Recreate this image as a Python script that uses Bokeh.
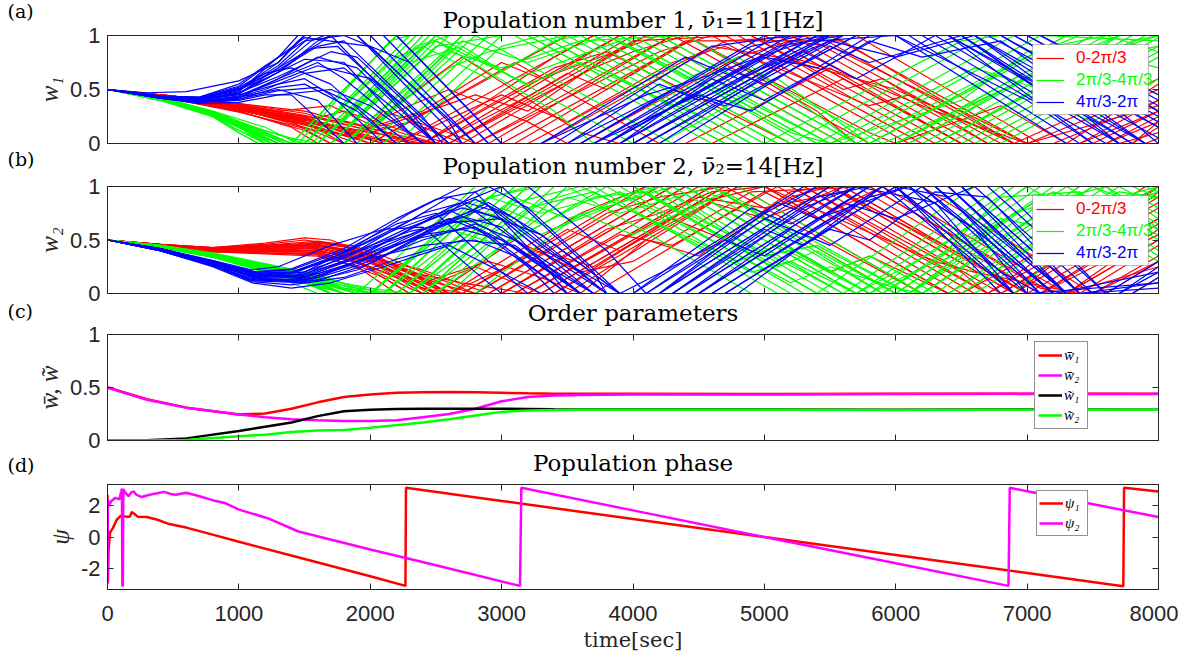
from bokeh.plotting import figure
from bokeh.models import (LinearAxis, FixedTicker, Legend, LegendItem, Label,
                          BoxAnnotation, Range1d)
from bokeh.layouts import column, row
from bokeh.embed import file_html
from bokeh.resources import INLINE

# ---------------- data ----------------
TIME_TICKS = [0, 1000, 2000, 3000, 4000, 5000, 6000, 7000, 8000]
W_TICKS = [0, 0.5, 1]
PSI_TICKS = [-2, 0, 2]

LEGEND_AB = ["0-2\u03c0/3", "2\u03c0/3-4\u03c0/3", "4\u03c0/3-2\u03c0"]
GROUP_COLORS = ["#ff0000", "#00ff00", "#0000ff"]

# Panel (a): weight trajectories of population 1, keypoints (t, w) per line
A_RED = [
    [(0,.5),(500,.44),(1000,.36),(1500,.2),(1800,0),(2000,0),(3500,1),(4100,1),(5600,0),(6900,0),(8000,.6)],
    [(0,.5),(500,.43),(1000,.33),(1500,.18),(1900,0),(2200,0),(3700,1),(4300,1),(5800,0),(7000,0),(8000,.5)],
    [(0,.5),(500,.42),(1000,.31),(1400,.2),(1700,0),(2400,0),(3900,1),(4600,1),(6100,0),(7200,0),(8000,.4)],
    [(0,.5),(500,.44),(1000,.35),(1500,.25),(2000,0),(2600,0),(4000,.95),(4800,1),(6300,0),(7400,0),(8000,.3)],
    [(0,.5),(500,.41),(1000,.30),(1500,.12),(1700,0),(2800,0),(4300,1),(5000,1),(6500,0),(7600,0),(8000,.2)],
    [(0,.5),(500,.43),(1000,.34),(1500,.22),(2100,0),(3000,0),(4500,1),(5200,1),(6700,0),(8000,0)],
    [(0,.5),(500,.42),(1000,.32),(1500,.15),(1800,0),(2000,0),(3100,.75),(4200,0),(4600,0),(5600,.6),(6500,0),(8000,0)],
    [(0,.5),(500,.44),(1000,.37),(1500,.28),(2200,.05),(2400,0),(3400,.7),(3800,.85),(5200,0),(6000,0),(6800,.35),(7300,0),(8000,0)],
    [(0,.5),(500,.43),(1000,.33),(1600,.2),(2000,.1),(2500,0),(3300,.5),(4000,1),(4400,1),(5400,.3),(5700,0),(7800,0),(8000,.15)],
    [(0,.5),(500,.42),(1000,.31),(1500,.18),(1900,.05),(2100,.3),(2600,.1),(2800,0),(4200,.85),(4600,1),(5300,1),(6800,0),(8000,0)],
    [(0,.5),(500,.44),(1000,.36),(1300,.3),(1700,.35),(2300,0),(3200,0),(4600,.9),(5100,.8),(6000,.5),(6900,0),(8000,0)],
    [(0,.5),(500,.43),(1000,.34),(1500,.2),(2000,.1),(2300,.2),(2700,0),(3600,0),(4800,.8),(5200,.95),(5500,.9),(7000,0),(7500,0),(8000,.3)],
    [(0,.5),(500,.42),(1000,.3),(1400,.15),(1600,0),(1800,0),(2700,.8),(3600,.1),(3900,0),(4400,0),(5500,.7),(6500,0),(8000,0)],
    [(0,.5),(500,.43),(1000,.35),(1400,.27),(1800,.2),(2200,.08),(2500,0),(3300,0),(4700,.95),(5400,1),(5700,1),(7100,0),(8000,0)],
    [(0,.5),(500,.42),(1000,.32),(1500,.22),(1900,.12),(2300,.35),(2600,.5),(3200,.2),(3500,0),(4000,0),(5200,.8),(5600,.65),(6300,.3),(7000,0),(8000,.35)],
    [(0,.5),(500,.44),(1000,.37),(1500,.3),(2000,.15),(2400,.3),(3000,.75),(3300,.6),(4200,1),(4900,1),(6400,0),(7700,0),(8000,.1)],
    [(0,.5),(500,.41),(1000,.29),(1500,.14),(1800,.08),(2200,.2),(2800,.45),(3200,.3),(3800,.8),(4100,1),(4700,1),(5900,.2),(6200,0),(8000,0)],
    [(0,.5),(500,.43),(1000,.33),(1500,.24),(2000,.05),(2200,0),(3000,.45),(3500,.2),(4300,.75),(4700,.9),(5800,.35),(6100,.45),(6900,0),(7800,0),(8000,.2)],
    [(0,.5),(500,.42),(1000,.34),(1500,.23),(1800,.1),(2100,0),(2600,0),(3700,.7),(4000,.85),(4400,1),(5800,.1),(6000,0),(7300,0),(8000,.55)],
    [(0,.5),(500,.43),(1000,.34),(1500,.24),(1900,.1),(2200,0),(2500,0),(3900,1),(5000,1),(6500,0),(8000,0)],
    [(0,.5),(500,.42),(1000,.33),(1500,.19),(2000,0),(2900,0),(4300,1),(5400,1),(6900,0),(7600,0),(8000,.25)],
    [(0,.5),(500,.44),(1000,.36),(1500,.26),(2000,.12),(2300,0),(2700,0),(4100,1),(5100,1),(6600,0),(7900,0),(8000,.05)],
    [(0,.5),(500,.41),(1000,.31),(1500,.17),(1900,.04),(2100,.15),(2500,0),(3100,0),(4500,1),(5500,1),(7000,0),(8000,0)],
    [(0,.5),(500,.43),(1000,.35),(1500,.21),(1800,.3),(2300,.1),(2600,0),(3500,.65),(3800,.5),(4400,.95),(5600,.95),(6900,0),(8000,0)],
    [(0,.5),(500,.42),(1000,.32),(1500,.2),(2000,.05),(2400,0),(3400,.8),(3700,1),(4900,1),(5600,.5),(5900,.6),(6700,0),(7400,0),(8000,.4)],
]
A_GREEN = [
    [(0,.5),(400,.42),(800,.27),(1100,.1),(1250,0),(1400,0),(2200,1),(2500,1),(4000,0),(5200,0),(6700,1),(8000,1)],
    [(0,.5),(400,.41),(800,.26),(1000,.15),(1200,0),(1500,0),(2350,1),(2800,1),(4300,0),(5400,0),(6900,1),(8000,1)],
    [(0,.5),(400,.43),(800,.29),(1100,.13),(1350,0),(1600,0),(2450,1),(3100,1),(4600,0),(5600,0),(7100,1),(8000,.95)],
    [(0,.5),(400,.42),(800,.28),(1200,.1),(1400,0),(1700,0),(2600,1),(3300,1),(4800,0),(5800,0),(7300,1),(8000,1)],
    [(0,.5),(400,.40),(800,.25),(1000,.1),(1150,0),(1800,0),(2700,1),(3500,1),(5000,0),(6000,0),(7500,1),(8000,1)],
    [(0,.5),(400,.42),(800,.30),(1200,.15),(1450,0),(1900,0),(2800,1),(3700,1),(5200,0),(6200,0),(7700,1),(8000,1)],
    [(0,.5),(400,.41),(800,.27),(1100,.1),(1300,0),(2000,0),(2900,1),(3900,1),(5400,0),(6400,0),(7900,1),(8000,1)],
    [(0,.5),(400,.43),(800,.28),(1200,.12),(1500,0),(2100,0),(3000,1),(4100,1),(5600,0),(6600,0),(8000,.9)],
    [(0,.5),(400,.42),(800,.27),(1100,.12),(1300,0),(1500,0),(2200,.8),(2500,.95),(3400,.3),(3700,0),(4200,0),(5100,.6),(5800,0),(6100,0),(7400,.9),(8000,.7)],
    [(0,.5),(400,.41),(800,.26),(1100,.1),(1300,0),(1700,0),(2500,.9),(3000,1),(3300,1),(4300,.35),(4700,.5),(5500,0),(6000,0),(7300,.8),(7700,1),(8000,1)],
    [(0,.5),(400,.42),(800,.29),(1150,.12),(1400,0),(1800,0),(2600,.85),(3000,.7),(3600,.95),(4400,1),(5900,0),(6300,0),(7000,.45),(7500,.2),(8000,.6)],
    [(0,.5),(400,.43),(800,.28),(1100,.14),(1350,0),(1900,0),(2700,.95),(3200,.75),(3800,1),(4000,1),(5500,0),(5800,0),(7200,.9),(7500,.8),(8000,1)],
    [(0,.5),(400,.42),(800,.27),(1100,.1),(1300,0),(1600,0),(2400,.9),(2900,.6),(3400,.95),(3600,1),(5100,0),(5500,0),(6600,.7),(7100,.5),(7700,1),(8000,1)],
    [(0,.5),(400,.41),(800,.26),(1100,.11),(1300,0),(1550,0),(2350,.9),(2600,1),(3800,1),(4400,.6),(4800,.8),(5700,0),(6300,0),(7800,.95),(8000,1)],
    [(0,.5),(400,.42),(800,.28),(1100,.12),(1400,0),(2200,0),(3000,.9),(3300,1),(4200,1),(5700,0),(6800,0),(8000,.8)],
    [(0,.5),(400,.43),(800,.29),(1100,.15),(1400,.05),(1600,0),(2300,.75),(2700,.9),(3100,.6),(3900,.95),(4300,.7),(5300,0),(5700,0),(6900,.75),(7400,1),(8000,1)],
    [(0,.5),(400,.40),(800,.25),(1000,.12),(1200,0),(1700,0),(2500,.95),(3200,.55),(3600,.75),(4600,.2),(4900,0),(5900,0),(7000,.6),(7300,.75),(8000,.9)],
    [(0,.5),(400,.42),(800,.27),(1100,.1),(1300,0),(1800,0),(2600,.7),(2900,.85),(3500,1),(3800,1),(4900,.3),(5200,.1),(5500,0),(6500,.4),(7000,.85),(7600,1),(8000,.85)],
    [(0,.5),(400,.41),(800,.26),(1000,.12),(1250,0),(1450,0),(2150,.95),(2300,1),(3200,1),(4700,0),(5000,0),(6500,.95),(6800,1),(8000,1)],
    [(0,.5),(400,.41),(800,.27),(1100,.12),(1300,0),(1500,0),(2300,1),(3600,1),(5100,0),(6300,0),(7800,1),(8000,1)],
    [(0,.5),(400,.42),(800,.28),(1100,.1),(1250,0),(1700,0),(2500,1),(3900,1),(5400,0),(6500,0),(8000,.98)],
    [(0,.5),(400,.43),(800,.3),(1100,.16),(1400,0),(1600,0),(2400,1),(3400,1),(4900,0),(6000,0),(7500,1),(8000,1)],
    [(0,.5),(400,.40),(800,.25),(1000,.1),(1150,0),(1400,0),(2200,1),(3200,1),(4700,0),(5800,0),(7300,1),(8000,1)],
    [(0,.5),(400,.42),(800,.27),(1100,.11),(1300,0),(1900,0),(2700,1),(4200,1),(5700,0),(6700,0),(8000,.85)],
    [(0,.5),(400,.41),(800,.26),(1100,.09),(1200,0),(1600,0),(2500,1),(3700,1),(5200,0),(6100,0),(7600,1),(8000,1)],
]
A_BLUE = [
    [(0,.5),(400,.44),(700,.42),(1000,.5),(1300,.75),(1500,1),(1900,1),(2800,0),(3700,0),(5200,1),(6200,1),(7600,0),(8000,0)],
    [(0,.5),(400,.43),(700,.40),(1000,.46),(1300,.7),(1550,.95),(1650,1),(2100,1),(2900,0),(3900,0),(5400,1),(6400,1),(7800,0),(8000,0)],
    [(0,.5),(400,.43),(700,.39),(1000,.42),(1300,.6),(1600,.75),(1800,.6),(2400,0),(3800,0),(5100,.9),(5600,1),(6000,1),(7300,0),(8000,0)],
    [(0,.5),(400,.44),(700,.41),(1000,.45),(1300,.55),(1500,.6),(1700,.45),(2100,0),(3600,0),(4900,.9),(5300,1),(6600,1),(8000,.05)],
    [(0,.5),(400,.42),(700,.38),(1000,.40),(1200,.45),(1400,.45),(1800,0),(3800,0),(5000,.8),(5400,.7),(5800,1),(6800,1),(8000,.2)],
    [(0,.5),(400,.43),(700,.40),(1000,.48),(1300,.8),(1500,.98),(2000,.9),(2600,.2),(2700,0),(4000,0),(5500,1),(6900,1),(8000,.3)],
    [(0,.5),(400,.44),(700,.42),(1000,.52),(1200,.65),(1400,.7),(1700,.55),(2200,0),(3500,0),(4300,.5),(4700,.35),(5700,1),(6500,1),(7800,0),(8000,0)],
    [(0,.5),(400,.43),(700,.39),(1000,.43),(1300,.5),(1600,.4),(1900,0),(3300,0),(4400,.8),(4800,.6),(5600,1),(6100,1),(7400,0),(8000,0)],
    [(0,.5),(400,.42),(700,.37),(1000,.38),(1300,.45),(1700,.5),(2000,.35),(2400,0),(3900,0),(4600,.6),(5000,.4),(5900,1),(7100,1),(8000,.45)],
    [(0,.5),(400,.44),(700,.43),(1000,.55),(1200,.72),(1500,.95),(1800,1),(2300,.75),(2900,0),(4100,0),(5300,.85),(5700,.6),(6300,1),(7000,1),(8000,.35)],
    [(0,.5),(400,.43),(700,.41),(1000,.47),(1300,.62),(1700,.85),(1900,.8),(2600,0),(3700,0),(4500,.45),(4900,.3),(5800,.95),(6200,.8),(6800,.95),(7900,0),(8000,0)],
    [(0,.5),(300,.47),(600,.48),(1000,.58),(1300,.75),(1450,.95),(1500,1),(1700,1),(2500,0),(3400,0),(4600,.9),(5200,1),(6300,1),(7700,0),(8000,0)],
    [(0,.5),(400,.43),(700,.39),(1000,.44),(1300,.58),(1600,.72),(2000,.6),(2600,0),(3500,0),(4200,.55),(4500,.4),(5400,.95),(6000,1),(7000,.4),(7500,0),(8000,0)],
    [(0,.5),(400,.44),(700,.42),(1000,.51),(1300,.68),(1600,.9),(1800,.95),(2400,.25),(2550,0),(3600,0),(5000,1),(6400,1),(7900,0),(8000,0)],
    [(0,.5),(400,.42),(700,.38),(1000,.41),(1300,.52),(1500,.55),(1900,.3),(2200,0),(3300,0),(4100,.45),(4500,.6),(5200,.9),(5500,1),(6700,1),(8000,.15)],
    [(0,.5),(400,.43),(700,.40),(1000,.46),(1300,.66),(1550,.88),(1750,.9),(2300,.3),(2500,0),(4200,0),(5100,.7),(5500,.95),(6000,.8),(6600,1),(7400,.3),(7700,0),(8000,0)],
    [(0,.5),(400,.44),(700,.41),(1000,.49),(1300,.7),(1600,.92),(1700,1),(2200,1),(3000,0),(4300,0),(5500,.9),(5800,.75),(6500,1),(7200,.4),(7500,.5),(8000,0)],
    [(0,.5),(400,.42),(700,.39),(1000,.43),(1200,.5),(1500,.65),(1800,.7),(2100,.4),(2500,0),(3800,0),(4700,.7),(5000,.55),(5700,1),(6400,1),(7500,0),(8000,0)],
    [(0,.5),(400,.44),(700,.43),(1000,.53),(1300,.8),(1450,1),(2200,1),(3000,0),(4000,0),(5400,1),(7000,1),(8000,.3)],
    [(0,.5),(400,.43),(700,.41),(1000,.5),(1300,.72),(1550,1),(2000,1),(2800,0),(3900,0),(5300,1),(6800,1),(8000,.15)],
    [(0,.5),(400,.42),(700,.39),(1000,.44),(1300,.6),(1600,.8),(1900,.7),(2500,0),(4100,0),(5600,1),(7100,1),(8000,.4)],
    [(0,.5),(400,.43),(700,.40),(1000,.47),(1300,.66),(1600,.95),(1700,1),(1900,1),(2700,0),(3700,0),(5100,1),(6600,1),(7900,0),(8000,0)],
    [(0,.5),(400,.44),(700,.42),(1000,.5),(1200,.6),(1500,.78),(1800,.75),(2300,.1),(2400,0),(3800,0),(5200,.95),(5500,1),(6900,1),(8000,.25)],
    [(0,.5),(400,.42),(700,.38),(1000,.41),(1300,.49),(1600,.52),(1900,.35),(2300,0),(4000,0),(5500,1),(6500,1),(7700,0),(8000,0)],
]

# Panel (b): weight trajectories of population 2
B_RED = [
    [(0,.5),(400,.46),(800,.42),(1200,.44),(1600,.46),(1900,.38),(2300,.1),(2450,0),(2700,0),(4100,1),(4600,1),(6000,0),(6500,0),(8000,1)],
    [(0,.5),(400,.45),(800,.40),(1200,.41),(1600,.43),(2000,.3),(2400,0),(2900,0),(4300,1),(4800,1),(6200,0),(6700,0),(8000,.9)],
    [(0,.5),(400,.44),(800,.39),(1200,.38),(1600,.36),(2000,.22),(2300,0),(3000,0),(4400,1),(5000,1),(6400,0),(6900,0),(8000,.8)],
    [(0,.5),(400,.46),(800,.43),(1200,.46),(1500,.5),(1800,.45),(2200,.25),(2600,0),(3200,0),(4600,1),(5200,1),(6600,0),(7100,0),(8000,.65)],
    [(0,.5),(400,.45),(800,.41),(1200,.39),(1600,.37),(2100,.15),(2300,0),(3300,0),(4700,1),(5400,1),(6800,0),(7300,0),(8000,.5)],
    [(0,.5),(400,.44),(800,.40),(1200,.42),(1600,.40),(2000,.3),(2500,.05),(2700,0),(3500,.6),(3900,.4),(4800,1),(5600,1),(7000,0),(7500,0),(8000,.35)],
    [(0,.5),(400,.45),(800,.42),(1200,.45),(1600,.47),(2000,.4),(2400,.2),(2800,0),(3400,0),(4300,.7),(4700,.5),(5200,.9),(5500,1),(6900,0),(7800,0),(8000,.15)],
    [(0,.5),(400,.46),(800,.41),(1200,.40),(1700,.38),(2100,.2),(2500,0),(3100,.5),(3600,.2),(4000,.3),(4900,.95),(5800,1),(7200,0),(8000,0)],
    [(0,.5),(400,.45),(800,.40),(1200,.43),(1600,.45),(2000,.35),(2400,.15),(2600,0),(3000,0),(3800,.6),(4200,.75),(4600,.95),(5000,1),(6300,.3),(6600,.2),(7400,0),(8000,.45)],
    [(0,.5),(400,.44),(800,.39),(1200,.37),(1600,.35),(1900,.25),(2200,0),(2600,0),(3600,.75),(4100,1),(4400,1),(5500,.2),(5800,.35),(6400,0),(6800,0),(7800,.75),(8000,.95)],
    [(0,.5),(400,.45),(800,.42),(1200,.44),(1600,.42),(2000,.32),(2500,.1),(2800,.25),(3300,0),(3700,0),(5000,.95),(5400,.7),(5900,1),(6200,1),(7500,0),(8000,0)],
    [(0,.5),(400,.46),(800,.43),(1200,.45),(1600,.44),(1900,.4),(2300,.2),(2700,.1),(3200,0),(4500,.9),(5000,.8),(5600,.95),(6700,.2),(7000,0),(7500,0),(8000,.3)],
    [(0,.5),(400,.45),(800,.41),(1200,.42),(1600,.48),(1900,.42),(2300,.15),(2500,0),(3400,0),(4800,1),(5300,1),(6500,.2),(6700,0),(7300,0),(8000,.6)],
    [(0,.5),(400,.44),(800,.40),(1200,.39),(1600,.41),(2000,.28),(2400,.1),(2900,.3),(3300,.15),(3600,0),(4100,.5),(4500,.35),(5200,.95),(5500,1),(6600,.3),(6900,0),(8000,0)],
    [(0,.5),(400,.46),(800,.43),(1200,.47),(1500,.52),(1700,.5),(2100,.3),(2500,.1),(2800,0),(3800,.75),(4200,.9),(4700,1),(6200,0),(6900,0),(8000,1)],
    [(0,.5),(400,.45),(800,.42),(1200,.43),(1600,.39),(2000,.25),(2400,.05),(2600,0),(3300,.4),(3700,.25),(4500,.85),(5000,1),(5200,1),(6700,0),(7100,0),(8000,.7)],
    [(0,.5),(400,.44),(800,.39),(1200,.40),(1600,.43),(2000,.33),(2400,.22),(2900,0),(3500,0),(4600,.85),(5000,.7),(5600,1),(5900,1),(7300,0),(8000,0)],
    [(0,.5),(400,.45),(800,.41),(1200,.41),(1600,.38),(1900,.3),(2300,.1),(2500,0),(3100,0),(3900,.55),(4300,.45),(5100,1),(5800,1),(7100,.05),(7300,0),(8000,.25)],
    [(0,.5),(400,.45),(800,.41),(1200,.43),(1600,.45),(2000,.33),(2400,.05),(2500,0),(3000,0),(4400,1),(5600,1),(7000,0),(7300,0),(8000,.5)],
    [(0,.5),(400,.46),(800,.42),(1200,.45),(1600,.49),(1900,.44),(2300,.2),(2600,0),(3200,0),(4600,1),(5500,1),(6900,0),(7100,0),(8000,.55)],
    [(0,.5),(400,.44),(800,.40),(1200,.40),(1600,.40),(2000,.3),(2400,.08),(2500,0),(2900,0),(4300,1),(5300,1),(6700,0),(7000,0),(8000,.7)],
    [(0,.5),(400,.45),(800,.41),(1200,.42),(1600,.44),(2000,.36),(2500,.12),(2700,0),(3300,0),(4700,1),(5700,1),(7100,0),(7600,0),(8000,.3)],
    [(0,.5),(400,.45),(800,.42),(1200,.44),(1600,.46),(2000,.37),(2400,.12),(2550,0),(3100,0),(4500,1),(5100,1),(6500,0),(6800,0),(8000,.85)],
    [(0,.5),(400,.44),(800,.39),(1200,.38),(1600,.37),(1900,.29),(2300,.05),(2400,0),(2800,0),(4200,1),(5000,1),(6400,0),(6700,0),(7900,1),(8000,1)],
]
B_GREEN = [
    [(0,.5),(400,.44),(800,.36),(1200,.24),(1500,.1),(1700,0),(1900,0),(2800,1),(3500,1),(4900,0),(5400,0),(6600,1),(7000,1),(8000,.3)],
    [(0,.5),(400,.43),(800,.35),(1200,.22),(1600,.08),(1800,0),(2100,0),(3000,1),(3700,1),(5100,0),(5600,0),(6800,1),(7300,1),(8000,.5)],
    [(0,.5),(400,.45),(800,.37),(1200,.26),(1600,.1),(1900,0),(2300,0),(3200,1),(3900,1),(5300,0),(5800,0),(7000,1),(7500,1),(8000,.65)],
    [(0,.5),(400,.44),(800,.35),(1200,.23),(1500,.12),(1700,0),(2400,0),(3300,1),(4100,1),(5500,0),(6000,0),(7200,1),(7700,1),(8000,.8)],
    [(0,.5),(400,.43),(800,.34),(1200,.2),(1500,.05),(1600,0),(2500,0),(3400,1),(4300,1),(5700,0),(6200,0),(7400,1),(8000,1)],
    [(0,.5),(400,.45),(800,.38),(1200,.28),(1600,.18),(2000,0),(2600,0),(3500,1),(4500,1),(5900,0),(6400,0),(7600,1),(8000,1)],
    [(0,.5),(400,.44),(800,.36),(1200,.25),(1500,.15),(1900,0),(2200,0),(3000,.8),(3400,.6),(4200,1),(4400,1),(5500,.2),(5800,.35),(6300,0),(6500,0),(7500,.8),(8000,.9)],
    [(0,.5),(400,.43),(800,.35),(1200,.24),(1600,.1),(1800,0),(2000,0),(2700,.7),(3100,.5),(3800,1),(4000,1),(5100,.25),(5400,.4),(6000,0),(6700,.6),(7200,.95),(8000,.6)],
    [(0,.5),(400,.44),(800,.37),(1200,.27),(1600,.16),(2100,0),(2800,0),(3600,.75),(4000,.55),(4700,.95),(6100,0),(6600,0),(7300,.55),(7800,.85),(8000,1)],
    [(0,.5),(400,.45),(800,.36),(1200,.25),(1500,.14),(1800,.05),(2000,0),(2900,.9),(3300,.75),(3900,.95),(5200,.1),(5500,.25),(6000,.05),(6200,0),(7100,.7),(7500,1),(8000,.75)],
    [(0,.5),(400,.43),(800,.34),(1200,.21),(1500,.1),(1700,0),(2300,0),(3100,.85),(3600,1),(4800,.3),(5100,.45),(5800,0),(6300,.3),(6800,.9),(7400,.95),(8000,.4)],
    [(0,.5),(400,.44),(800,.36),(1200,.26),(1600,.13),(1900,0),(2500,0),(3500,.9),(3900,.75),(4600,1),(4800,1),(6200,0),(6900,0),(7700,.9),(8000,1)],
    [(0,.5),(400,.44),(800,.35),(1200,.23),(1500,.1),(1700,0),(2000,0),(2800,.85),(3200,1),(4000,1),(5300,.2),(5600,0),(6100,0),(7300,.9),(7600,1),(8000,.7)],
    [(0,.5),(400,.43),(800,.36),(1200,.25),(1600,.12),(1900,.05),(2200,0),(3100,.9),(3500,.7),(4300,1),(4600,1),(5900,0),(6400,0),(7700,.95),(8000,.9)],
    [(0,.5),(400,.45),(800,.37),(1200,.27),(1500,.18),(1800,.05),(2000,0),(2600,.6),(3000,.45),(3700,.9),(4100,.95),(5400,0),(5900,0),(6800,.7),(7200,.6),(8000,.95)],
    [(0,.5),(400,.44),(800,.35),(1200,.22),(1500,.1),(1800,0),(2400,0),(3300,.85),(3700,1),(4400,1),(5800,0),(6100,0),(6900,.75),(7300,.9),(8000,.35)],
    [(0,.5),(400,.43),(800,.34),(1200,.2),(1600,.1),(1800,0),(2100,0),(2900,.75),(3300,.55),(4000,.95),(4200,1),(5000,.35),(5400,.45),(6100,0),(6700,.55),(7100,.9),(8000,.55)],
    [(0,.5),(400,.44),(800,.36),(1200,.24),(1600,.14),(2000,.05),(2300,0),(3200,.8),(3700,.95),(4900,.2),(5200,.3),(5700,0),(6300,.4),(7000,1),(7600,1),(8000,.6)],
    [(0,.5),(400,.44),(800,.36),(1200,.25),(1500,.13),(1800,0),(2000,0),(2900,1),(4200,1),(5600,0),(6100,0),(7300,1),(8000,1)],
    [(0,.5),(400,.43),(800,.35),(1200,.23),(1600,.1),(1800,0),(2200,0),(3100,1),(4400,1),(5800,0),(6300,0),(7500,1),(8000,1)],
    [(0,.5),(400,.45),(800,.37),(1200,.26),(1600,.13),(1900,0),(2300,0),(3200,1),(4000,1),(5400,0),(5900,0),(7100,1),(7900,1),(8000,.95)],
    [(0,.5),(400,.44),(800,.36),(1200,.24),(1500,.11),(1700,0),(2100,0),(3000,1),(3800,1),(5200,0),(5700,0),(6900,1),(7800,1),(8000,.9)],
    [(0,.5),(400,.43),(800,.34),(1200,.21),(1600,.07),(1700,0),(2400,0),(3300,1),(4600,1),(6000,0),(6500,0),(7700,1),(8000,1)],
    [(0,.5),(400,.45),(800,.37),(1200,.27),(1600,.15),(1900,.03),(2100,0),(2900,.9),(3300,1),(4300,1),(5700,0),(6200,0),(7400,1),(8000,1)],
]
B_BLUE = [
    [(0,.5),(400,.42),(800,.3),(1100,.2),(1400,.2),(1800,.35),(2300,.55),(2600,.7),(2900,.55),(3500,0),(4000,0),(5300,1),(6000,1),(7000,0),(8000,0)],
    [(0,.5),(400,.41),(800,.28),(1100,.16),(1400,.15),(1800,.3),(2300,.5),(2700,.6),(3000,.5),(3700,0),(4200,0),(5500,1),(6200,1),(7200,0),(8000,0)],
    [(0,.5),(400,.42),(800,.29),(1200,.15),(1500,.18),(1900,.4),(2400,.75),(2700,.85),(3100,.5),(3600,0),(4400,0),(5700,1),(6300,1),(7300,0),(7700,0),(8000,.2)],
    [(0,.5),(400,.40),(800,.26),(1100,.12),(1500,.1),(1900,.22),(2400,.55),(2800,.95),(2900,1),(3200,.8),(3900,0),(4100,0),(5400,1),(5900,1),(6900,0),(7600,0),(8000,.3)],
    [(0,.5),(400,.41),(800,.27),(1200,.12),(1600,.15),(2000,.35),(2500,.65),(3000,.7),(3300,.4),(3800,0),(4500,0),(5200,.6),(5500,.45),(6200,1),(6500,1),(7400,0),(8000,0)],
    [(0,.5),(400,.42),(800,.28),(1100,.2),(1400,.22),(1800,.4),(2200,.65),(2500,.75),(2900,.3),(3200,0),(4300,0),(5000,.6),(5300,.45),(6000,1),(6400,.9),(7100,0),(8000,0)],
    [(0,.5),(400,.41),(800,.3),(1200,.18),(1500,.15),(1900,.3),(2400,.45),(2800,.5),(3100,.35),(3500,0),(4600,0),(5800,.9),(6100,1),(6600,.6),(7000,0),(8000,.1)],
    [(0,.5),(400,.40),(800,.25),(1100,.1),(1400,.05),(1700,.1),(2100,.25),(2600,.45),(3000,.2),(3300,0),(3900,0),(4700,.5),(5000,.35),(5800,1),(6600,1),(7500,0),(8000,0)],
    [(0,.5),(400,.42),(800,.29),(1100,.17),(1400,.18),(1800,.38),(2300,.68),(2600,.9),(3000,.75),(3800,0),(4200,0),(5000,.7),(5300,.55),(5900,1),(6100,1),(6800,.2),(7100,0),(7700,0),(8000,.25)],
    [(0,.5),(400,.41),(800,.27),(1200,.14),(1600,.12),(2000,.28),(2500,.6),(2900,.82),(3400,.35),(3900,0),(4800,0),(5900,1),(6700,1),(7600,0),(8000,0)],
    [(0,.5),(400,.42),(800,.31),(1100,.22),(1300,.25),(1700,.45),(2100,.6),(2400,.62),(2800,.2),(3000,0),(4000,0),(4900,.8),(5200,.65),(5700,1),(6300,.85),(6900,0),(7800,0),(8000,.15)],
    [(0,.5),(400,.40),(800,.26),(1100,.14),(1500,.15),(2000,.4),(2600,.8),(3000,1),(3200,1),(3800,.4),(4100,0),(4500,0),(5600,.85),(6000,.7),(6600,1),(6800,1),(7600,0),(8000,0)],
    [(0,.5),(400,.41),(800,.28),(1100,.15),(1400,.12),(1800,.25),(2300,.5),(2700,.72),(3000,.62),(3600,0),(4300,0),(5400,.9),(5800,1),(6500,1),(7300,0),(8000,0)],
    [(0,.5),(400,.42),(800,.3),(1100,.2),(1400,.23),(1800,.42),(2200,.7),(2500,.88),(2800,.95),(3300,.3),(3500,0),(4100,0),(5000,.75),(5400,1),(6000,1),(6800,0),(8000,0)],
    [(0,.5),(400,.40),(800,.27),(1100,.13),(1500,.12),(1900,.3),(2400,.55),(2800,.62),(3200,.25),(3400,0),(4700,0),(5500,.6),(5800,.5),(6300,.95),(6700,.9),(7400,0),(8000,.1)],
    [(0,.5),(400,.41),(800,.29),(1200,.17),(1500,.16),(1900,.33),(2400,.6),(2800,.78),(3300,.55),(3900,0),(4400,0),(5300,.8),(5700,1),(6400,1),(7000,.3),(7300,0),(8000,0)],
    [(0,.5),(400,.42),(800,.3),(1200,.18),(1500,.2),(1900,.45),(2300,.75),(2700,1),(3000,1),(3700,.2),(3800,0),(4200,0),(5100,.85),(5400,.7),(6100,1),(6600,.6),(7200,0),(8000,.2)],
    [(0,.5),(400,.40),(800,.26),(1100,.11),(1400,.08),(1800,.15),(2200,.32),(2700,.5),(3100,.45),(3600,0),(4500,0),(5800,1),(6300,1),(7200,0),(8000,0)],
    [(0,.5),(400,.41),(800,.28),(1100,.16),(1400,.16),(1800,.33),(2300,.62),(2700,.8),(3000,.7),(3700,0),(4500,0),(5800,1),(6400,1),(7300,0),(8000,0)],
    [(0,.5),(400,.42),(800,.3),(1100,.19),(1400,.2),(1800,.38),(2200,.6),(2600,.78),(2900,.6),(3600,0),(4400,0),(5700,1),(6300,1),(7200,0),(8000,0)],
    [(0,.5),(400,.40),(800,.26),(1100,.12),(1500,.11),(1900,.26),(2400,.5),(2800,.65),(3100,.5),(3700,0),(4600,0),(5900,1),(6400,1),(7300,0),(8000,0)],
    [(0,.5),(400,.41),(800,.28),(1200,.16),(1500,.17),(1900,.35),(2400,.66),(2800,.88),(3100,.7),(3800,0),(4300,0),(5600,1),(6200,1),(7100,0),(8000,0)],
    [(0,.5),(400,.42),(800,.29),(1100,.18),(1400,.19),(1800,.36),(2300,.58),(2700,.68),(3000,.5),(3600,0),(4200,0),(5500,1),(6000,1),(6900,0),(8000,0)],
    [(0,.5),(400,.41),(800,.27),(1200,.13),(1500,.13),(1900,.28),(2500,.62),(2900,.85),(3300,.55),(3900,0),(4700,0),(6000,1),(6500,1),(7400,0),(8000,.05)],
]

# Panel (c): order parameters
T_C = [0, 300, 600, 1000, 1200, 1400, 1600, 1800, 2000, 2200, 2400, 2600, 2800,
       3000, 3200, 3400, 3600, 4000, 5000, 6000, 7000, 8000]
WBAR1 = [.5, .39, .31, .245, .255, .30, .36, .41, .435, .45, .455, .458, .455,
         .45, .445, .442, .44, .44, .438, .44, .442, .44]
WBAR2 = [.5, .385, .31, .245, .22, .20, .19, .185, .185, .19, .22, .25, .30,
         .37, .41, .425, .43, .435, .435, .438, .44, .438]
WTIL1 = [0, .002, .02, .09, .13, .17, .23, .275, .29, .297, .30, .30, .30,
         .30, .298, .295, .293, .292, .292, .291, .292, .29]
WTIL2 = [0, 0, .005, .04, .055, .08, .095, .10, .12, .145, .17, .20, .235,
         .27, .283, .288, .29, .29, .29, .288, .29, .29]
LEGEND_C = ["w\u0304\u2081", "w\u0304\u2082", "w\u0303\u2081", "w\u0303\u2082"]

# Panel (d): population phases
T_PSI1 = [0, 3, 8, 20, 40, 70, 100, 140, 170, 185, 200, 230, 300, 380, 460, 600,
          800, 1000, 1500, 2000, 2268, 2272, 3000, 4000, 5000, 6000, 7000, 7732,
          7738, 8000]
PSI1 = [2.7, -2.9, -0.8, 0.3, 0.55, 1.1, 1.35, 1.3, 1.3, 1.6, 1.5, 1.3, 1.28, 1.1,
        0.85, 0.6, 0.15, -0.3, -1.4, -2.5, -3.12, 3.14, 2.30, 1.15, 0.0, -1.15,
        -2.30, -3.14, 3.14, 2.9]
T_PSI2 = [0, 3, 10, 30, 60, 90, 105, 110, 113, 117, 120, 135, 160, 180, 200, 220,
          260, 300, 350, 430, 480, 520, 600, 700, 800, 900, 1000, 1219, 1453, 2000,
          2500, 3140, 3150, 4000, 5000, 6000, 6858, 6868, 7000, 8000]
PSI2 = [-3.0, 2.4, 2.0, 2.3, 2.5, 2.4, 2.9, 3.1, -3.12, -3.1, 3.05, 2.85, 2.6, 2.85,
        2.9, 2.7, 2.55, 2.65, 2.75, 2.88, 2.75, 2.7, 2.82, 2.6, 2.35, 2.15, 1.75,
        1.2, 0.35, -0.8, -1.8, -3.12, 3.14, 1.7, 0.0, -1.68, -3.12, 3.14, 2.92, 1.27]
LEGEND_D = ["\u03c8\u2081", "\u03c8\u2082"]

TITLES = ["Population number 1, \u03bd\u0304\u2081=11[Hz]",
          "Population number 2, \u03bd\u0304\u2082=14[Hz]",
          "Order parameters", "Population phase"]
PANEL_TAGS = ["(a)", "(b)", "(c)", "(d)"]
TAG_ROWS = [10, 158, 310, 464]   # page rows of the panel tags
YLABELS = ["w\u2081", "w\u2082", "w\u0304, w\u0303", "\u03c8"]

# ---------------- styling ----------------
AX = "#262626"
SERIF = "Liberation Serif"
TSERIF = "DejaVu Serif"
SANS = "Liberation Sans"
FRAME_W = 1051
LEFT = 107
OVERLAP = 20
PAGE_H = 654
TAG_W = 40


def style_axis(ax, ticks, labels=None):
    ax.ticker = FixedTicker(ticks=ticks)
    ax.minor_tick_line_color = None
    ax.major_tick_in = 6
    ax.major_tick_out = 0
    ax.axis_line_color = AX
    ax.major_tick_line_color = AX
    ax.major_label_text_font = SANS
    ax.major_label_text_color = AX
    ax.major_label_text_font_size = "22px"
    if labels is None:
        ax.major_label_overrides = {t: "" for t in ticks}
        ax.major_label_text_color = None
        ax.major_label_text_font_size = "1px"
        ax.major_label_standoff = 0
    else:
        ax.major_label_overrides = labels
        ax.major_label_standoff = 7


def make_fig(frame_h, top, bottom, yr, yticks, ylabels, ylabel, xlabels, first):
    p = figure(frame_width=FRAME_W, frame_height=frame_h,
               min_border_left=LEFT, min_border_right=20,
               min_border_top=top, min_border_bottom=bottom,
               x_range=Range1d(0, 8000), y_range=Range1d(*yr),
               output_backend="svg", toolbar_location=None,
               margin=(0 if first else -OVERLAP, 0, 0, 0))
    p.grid.visible = False
    p.outline_line_color = AX
    p.outline_line_width = 1
    p.border_fill_alpha = 0
    bottom_ax = p.below[0]
    style_axis(bottom_ax, TIME_TICKS, xlabels)
    left_ax = p.left[0]
    style_axis(left_ax, yticks, ylabels)
    left_ax.axis_label = ylabel
    left_ax.axis_label_text_font = SERIF
    left_ax.axis_label_text_font_style = "italic"
    left_ax.axis_label_text_font_size = "25px"
    left_ax.axis_label_text_color = AX
    left_ax.axis_label_standoff = 4
    top_ax = LinearAxis()
    style_axis(top_ax, TIME_TICKS)
    p.add_layout(top_ax, "above")
    right_ax = LinearAxis()
    style_axis(right_ax, yticks)
    p.add_layout(right_ax, "right")
    return p, bottom_ax


def next_title(ax, text, standoff):
    # the following panel's title, written under this panel's frame
    ax.axis_label = text
    ax.axis_label_text_font = TSERIF
    ax.axis_label_text_font_style = "normal"
    ax.axis_label_text_font_size = "23px"
    ax.axis_label_text_color = "black"
    ax.axis_label_standoff = standoff


def draw_groups(p, groups, frame_h):
    rends = []
    for lines, col in zip(groups, GROUP_COLORS):
        xs = [[t for t, _ in ln] for ln in lines]
        ys = [[w for _, w in ln] for ln in lines]
        rends.append(p.multi_line(xs=xs, ys=ys, line_color=col, line_width=1.2))
    p.add_layout(BoxAnnotation(left=925, right=1041, top=frame_h - 9, bottom=frame_h - 79,
                               left_units="screen", right_units="screen",
                               top_units="screen", bottom_units="screen",
                               fill_color="white", fill_alpha=1.0,
                               line_color=AX, line_width=1.2))
    for i, (r, lab, col) in enumerate(zip(rends, LEGEND_AB, GROUP_COLORS)):
        lg = Legend(items=[LegendItem(label=lab, renderers=[r])],
                    location=(929, frame_h - 9 - 3 - 22 * (i + 1)),
                    label_text_font=SANS, label_text_font_size="17px",
                    label_text_color=col, glyph_width=28, glyph_height=22,
                    label_height=22, label_standoff=12, padding=0, spacing=0,
                    margin=0, border_line_alpha=0, background_fill_alpha=0)
        p.add_layout(lg)
    return rends


W_LABELS = {0: "0", 0.5: "0.5", 1: "1"}

# panel (a): page y 0..180, frame 35..143
fa, xa = make_fig(108, 35, 37, (0, 1), W_TICKS, W_LABELS, YLABELS[0], None, True)
fa.title.text = TITLES[0]
fa.title.align = "center"
fa.title.text_font = TSERIF
fa.title.text_font_size = "23px"
fa.title.text_font_style = "normal"
fa.title.text_color = "black"
fa.title.standoff = 6
next_title(xa, TITLES[1], 9)
draw_groups(fa, [A_RED, A_GREEN, A_BLUE], 108)

# panel (b): frame 185..292
fb, xb = make_fig(107, 5 + OVERLAP, 36, (0, 1), W_TICKS, W_LABELS, YLABELS[1], None, False)
next_title(xb, TITLES[2], 6)
draw_groups(fb, [B_RED, B_GREEN, B_BLUE], 107)

# panel (c): frame 333..439
fc, xc = make_fig(106, 5 + OVERLAP, 39, (0, 1), W_TICKS, W_LABELS, YLABELS[2], None, False)
next_title(xc, TITLES[3], 9)
c_cols = ["#ff0000", "#ff00ff", "#000000", "#00ff00"]
c_rs = []
for ys, col in zip([WBAR1, WBAR2, WTIL1, WTIL2], c_cols):
    c_rs.append(fc.line(T_C, ys, line_color=col, line_width=2.5))
lc = Legend(items=[LegendItem(label=l, renderers=[r]) for l, r in zip(LEGEND_C, c_rs)],
            location=(927, 11), label_text_font=SERIF, label_text_font_style="italic",
            label_text_font_size="15px", label_text_color="black",
            glyph_width=24, glyph_height=20, label_height=20, label_standoff=2,
            padding=3, spacing=0, margin=0, border_line_color=AX,
            border_line_width=1.2, background_fill_color="white", background_fill_alpha=1)
fc.add_layout(lc)

# panel (d): frame 483..588
PSI_LABELS = {-2: "-2", 0: "0", 2: "2"}
fd, xd = make_fig(105, 5 + OVERLAP, 66, (-3.35, 3.35), PSI_TICKS, PSI_LABELS, YLABELS[3],
                  {t: str(t) for t in TIME_TICKS}, False)
xd.axis_label = "time[sec]"
xd.axis_label_text_font = TSERIF
xd.axis_label_text_font_style = "normal"
xd.axis_label_text_font_size = "21px"
xd.axis_label_text_color = AX
xd.axis_label_standoff = 4
xd.major_label_standoff = 16
r1 = fd.line(T_PSI1, PSI1, line_color="#ff0000", line_width=2.5)
r2 = fd.line(T_PSI2, PSI2, line_color="#ff00ff", line_width=2.5)
ld = Legend(items=[LegendItem(label=LEGEND_D[0], renderers=[r1]),
                   LegendItem(label=LEGEND_D[1], renderers=[r2])],
            location=(929, 53), label_text_font=SERIF, label_text_font_style="italic",
            label_text_font_size="15px", label_text_color="black",
            glyph_width=24, glyph_height=20, label_height=20, label_standoff=2,
            padding=2, spacing=0, margin=0, border_line_color=AX,
            border_line_width=1.2, background_fill_color="white", background_fill_alpha=1)
fd.add_layout(ld)

# a narrow, frameless strip underneath the panels that carries the panel tags
ft = figure(width=TAG_W, height=PAGE_H, min_border=0,
            x_range=Range1d(0, TAG_W), y_range=Range1d(0, PAGE_H),
            output_backend="svg", toolbar_location=None)
ft.axis.visible = False
ft.grid.visible = False
ft.outline_line_color = None
ft.background_fill_alpha = 0
ft.border_fill_alpha = 0
for tag, yrow in zip(PANEL_TAGS, TAG_ROWS):
    ft.add_layout(Label(x=7, y=PAGE_H - yrow, x_units="screen", y_units="screen",
                        text=tag, text_font=TSERIF, text_font_size="19px",
                        text_align="left", text_baseline="middle", text_color="black"))

panels = column(fa, fb, fc, fd, spacing=0, margin=(0, 0, 0, -TAG_W))
layout = row(ft, panels, spacing=0)
open("out.html", "w").write(file_html(layout, INLINE))
